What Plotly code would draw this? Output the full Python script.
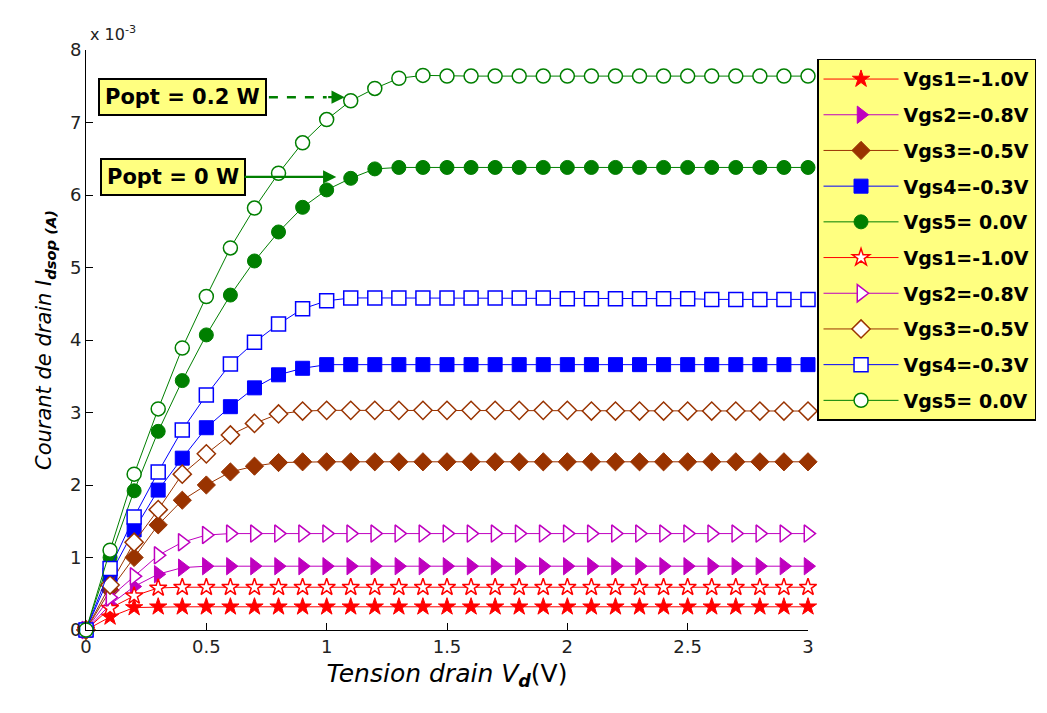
import plotly.graph_objects as go

# Drain voltage samples (V)
vd = [0.0, 0.1, 0.2, 0.3, 0.4, 0.5, 0.6, 0.7, 0.8, 0.9, 1.0,
      1.1, 1.2, 1.3, 1.4, 1.5, 1.6, 1.7, 1.8, 1.9, 2.0,
      2.1, 2.2, 2.3, 2.4, 2.5, 2.6, 2.7, 2.8, 2.9, 3.0]

# Drain current in units of 1e-3 A, optical power Popt = 0 W
id_vgs1_p0 = [0, 0.18, 0.31, 0.32, 0.32, 0.32, 0.32, 0.32, 0.32, 0.32, 0.32,
              0.32, 0.32, 0.32, 0.32, 0.32, 0.32, 0.32, 0.32, 0.32, 0.32,
              0.32, 0.32, 0.32, 0.32, 0.32, 0.32, 0.32, 0.32, 0.32, 0.32]
id_vgs2_p0 = [0, 0.35, 0.60, 0.77, 0.86, 0.88, 0.88, 0.88, 0.88, 0.88, 0.88,
              0.88, 0.88, 0.88, 0.88, 0.88, 0.88, 0.88, 0.88, 0.88, 0.88,
              0.88, 0.88, 0.88, 0.88, 0.88, 0.88, 0.88, 0.88, 0.88, 0.88]
id_vgs3_p0 = [0, 0.55, 1.00, 1.45, 1.79, 2.00, 2.18, 2.26, 2.31, 2.32, 2.32,
              2.32, 2.32, 2.32, 2.32, 2.32, 2.32, 2.32, 2.32, 2.32, 2.32,
              2.32, 2.32, 2.32, 2.32, 2.32, 2.32, 2.32, 2.32, 2.32, 2.32]
id_vgs4_p0 = [0, 0.76, 1.38, 1.93, 2.37, 2.79, 3.08, 3.34, 3.52, 3.61, 3.66,
              3.66, 3.66, 3.66, 3.66, 3.66, 3.66, 3.66, 3.66, 3.66, 3.66,
              3.66, 3.66, 3.66, 3.66, 3.66, 3.66, 3.66, 3.66, 3.66, 3.66]
id_vgs5_p0 = [0, 1.00, 1.92, 2.74, 3.44, 4.07, 4.62, 5.09, 5.49, 5.83, 6.07,
              6.23, 6.36, 6.38, 6.38, 6.38, 6.38, 6.38, 6.38, 6.38, 6.38,
              6.38, 6.38, 6.38, 6.38, 6.38, 6.38, 6.38, 6.38, 6.38, 6.38]

# Drain current in units of 1e-3 A, optical power Popt = 0.2 W
id_vgs1_p2 = [0, 0.30, 0.47, 0.58, 0.59, 0.59, 0.59, 0.59, 0.59, 0.59, 0.59,
              0.59, 0.59, 0.59, 0.59, 0.59, 0.59, 0.59, 0.59, 0.59, 0.59,
              0.59, 0.59, 0.59, 0.59, 0.59, 0.59, 0.59, 0.59, 0.59, 0.59]
id_vgs2_p2 = [0, 0.45, 0.74, 1.03, 1.21, 1.31, 1.33, 1.33, 1.33, 1.33, 1.33,
              1.33, 1.33, 1.33, 1.33, 1.33, 1.33, 1.33, 1.33, 1.33, 1.33,
              1.33, 1.33, 1.33, 1.33, 1.33, 1.33, 1.33, 1.33, 1.33, 1.33]
id_vgs3_p2 = [0, 0.62, 1.21, 1.66, 2.15, 2.43, 2.69, 2.85, 2.98, 3.02, 3.03,
              3.03, 3.03, 3.03, 3.03, 3.03, 3.03, 3.03, 3.03, 3.03, 3.03,
              3.02, 3.02, 3.02, 3.02, 3.02, 3.02, 3.02, 3.02, 3.02, 3.02]
id_vgs4_p2 = [0, 0.85, 1.56, 2.18, 2.76, 3.24, 3.67, 3.97, 4.22, 4.43, 4.54,
              4.58, 4.58, 4.58, 4.58, 4.58, 4.58, 4.58, 4.58, 4.58, 4.57,
              4.57, 4.57, 4.57, 4.57, 4.57, 4.56, 4.56, 4.56, 4.56, 4.56]
id_vgs5_p2 = [0, 1.10, 2.15, 3.05, 3.89, 4.60, 5.27, 5.82, 6.30, 6.72, 7.04,
              7.30, 7.47, 7.61, 7.65, 7.64, 7.64, 7.64, 7.64, 7.64, 7.64,
              7.64, 7.64, 7.64, 7.64, 7.64, 7.64, 7.64, 7.64, 7.64, 7.64]

labels = ["Vgs1=-1.0V", "Vgs2=-0.8V", "Vgs3=-0.5V", "Vgs4=-0.3V", "Vgs5= 0.0V"]
colors = ["#FF0000", "#BF00BF", "#993300", "#0000FF", "#007F00"]
symbols = ["star", "triangle-right", "diamond", "square", "circle"]
sizes = [13, 15, 14, 14, 14]

series_p0 = [id_vgs1_p0, id_vgs2_p0, id_vgs3_p0, id_vgs4_p0, id_vgs5_p0]
series_p2 = [id_vgs1_p2, id_vgs2_p2, id_vgs3_p2, id_vgs4_p2, id_vgs5_p2]

fig = go.Figure()

# Filled markers: Popt = 0 W
for i in range(5):
    fig.add_trace(go.Scatter(
        x=vd, y=series_p0[i], mode="lines+markers", name=labels[i],
        legendgroup=f"p0_{i}", cliponaxis=False,
        line=dict(color=colors[i], width=1),
        marker=dict(symbol=symbols[i], size=sizes[i], color=colors[i],
                    line=dict(color=colors[i], width=1)),
    ))

# Open markers: Popt = 0.2 W
for i in range(5):
    fig.add_trace(go.Scatter(
        x=vd, y=series_p2[i], mode="lines+markers", name=labels[i],
        legendgroup=f"p2_{i}", cliponaxis=False,
        line=dict(color=colors[i], width=1),
        marker=dict(symbol=symbols[i], size=sizes[i], color="white",
                    line=dict(color=colors[i], width=1.5)),
    ))

box_font = dict(family="DejaVu Sans", size=21, color="black", weight="bold")
yellow = "#FFFF80"
green = "#007F00"

# "Popt = 0 W" label with solid arrow
fig.add_annotation(
    x=1.04, y=6.25, xref="x", yref="y",
    ax=0.36, ay=6.25, axref="x", ayref="y",
    text="Popt = 0 W", font=box_font,
    bgcolor=yellow, bordercolor="black", borderwidth=2, borderpad=5,
    showarrow=True, arrowhead=2, arrowsize=1.2, arrowwidth=2.2, arrowcolor=green,
)

# "Popt = 0.2 W" label with dashed arrow
fig.add_annotation(
    x=0.403, y=7.35, xref="x", yref="y",
    text="Popt = 0.2 W", font=box_font,
    bgcolor=yellow, bordercolor="black", borderwidth=2, borderpad=5,
    showarrow=False,
)
fig.add_shape(type="line", x0=0.76, y0=7.35, x1=1.0, y1=7.35,
              xref="x", yref="y",
              line=dict(color=green, width=2.5, dash="dash"))
fig.add_annotation(
    x=1.075, y=7.35, xref="x", yref="y",
    ax=1.0, ay=7.35, axref="x", ayref="y",
    text="", showarrow=True, arrowhead=2, arrowsize=1.2, arrowwidth=2.2,
    arrowcolor=green,
)

# Axis exponent
fig.add_annotation(
    x=0.0, y=1.0, xref="paper", yref="paper", xanchor="left", yanchor="bottom",
    xshift=2, yshift=4,
    text="x 10<sup>-3</sup>", showarrow=False,
    font=dict(family="DejaVu Sans", size=16, color="#222222"),
)

axis_common = dict(
    showline=True, linecolor="black", linewidth=1, mirror=False,
    ticks="inside", ticklen=7, tickcolor="black",
    showgrid=False, zeroline=False,
    tickfont=dict(family="DejaVu Sans", size=18, color="#222222"),
)

fig.update_layout(
    width=1047, height=713,
    margin=dict(l=86, r=239, t=50, b=83, autoexpand=False),
    paper_bgcolor="white", plot_bgcolor="white",
    xaxis=dict(range=[0, 3], dtick=0.5, tick0=0,
               title=dict(text="<i>Tension drain V</i><sub><b><i>d</i></b></sub>(V)",
                          font=dict(family="DejaVu Sans", size=25, color="black"),
                          standoff=8),
               **axis_common),
    yaxis=dict(range=[0, 8], dtick=1, tick0=0,
               title=dict(text="<i>Courant de drain I<sub><b>dsop (A)</b></sub></i>",
                          font=dict(family="DejaVu Sans", size=21, color="black"),
                          standoff=12),
               **axis_common),
    legend=dict(
        x=1.0125, y=0.985, xanchor="left", yanchor="top",
        bgcolor=yellow, bordercolor="black", borderwidth=1.5,
        font=dict(family="DejaVu Sans", size=19, color="black", weight="bold"),
        itemwidth=75, tracegroupgap=8,
    ),
    showlegend=True,
)

fig.write_html("out.html")
